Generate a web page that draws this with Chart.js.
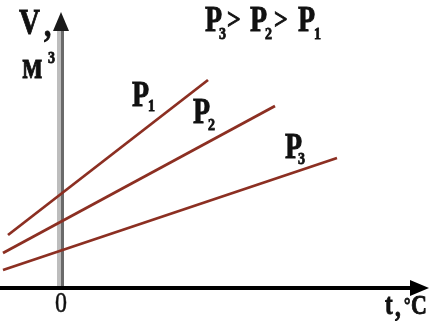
<!DOCTYPE html>
<html>
<head>
<meta charset="utf-8">
<script src="https://cdn.jsdelivr.net/npm/chart.js@4"></script>
<style>
  html, body { margin: 0; padding: 0; background: #fff; }
  canvas { display: block; }
</style>
</head>
<body>
<canvas id="chart" width="430" height="321"></canvas>
<script>
// isobars V(t), arbitrary units (origin = 0 °C)
const seriesNames = ["P1", "P2", "P3"];
const tP1 = [-53, 147];
const vP1 = [53, 208];
const tP2 = [-58, 214];
const vP2 = [35, 182];
const tP3 = [-58, 276];
const vP3 = [18, 130];

const lineColor = "#8c2f22";
const serif = '"Liberation Serif", "DejaVu Serif", serif';
const stretchY = 1.25;

function pts(ts, vs) {
    return ts.map((t, i) => ({ x: t, y: vs[i] }));
}

function txt(ctx, s, x, y, size, bold) {
    ctx.save();
    ctx.translate(x, y);
    ctx.scale(1, stretchY);
    ctx.font = (bold ? "bold " : "") + size + "px " + serif;
    ctx.fillStyle = "#111";
    ctx.strokeStyle = "#111";
    ctx.lineWidth = bold ? 0.7 : 0.4;
    ctx.textBaseline = "alphabetic";
    ctx.fillText(s, 0, 0);
    ctx.strokeText(s, 0, 0);
    ctx.restore();
}

// P with subscript
function pLabel(ctx, x, y, sub, subX, subY) {
    txt(ctx, "P", x, y, 28, true);
    txt(ctx, sub, subX, subY, 14, true);
}

const axesPlugin = {
    id: "axes",
    beforeDatasetsDraw(chart) {
        const ctx = chart.ctx;
        const xs = chart.scales.x, ys = chart.scales.y;
        const x0 = xs.getPixelForValue(0);
        const y0 = ys.getPixelForValue(0);
        ctx.save();
        // vertical axis (grey, shaded)
        ctx.fillStyle = "#bdbdbd";
        ctx.fillRect(x0 - 4, 28, 4, y0 - 28);
        ctx.fillStyle = "#6a6a6a";
        ctx.fillRect(x0, 28, 3, y0 - 28);
        ctx.fillStyle = "#1a1a1a";
        ctx.beginPath();
        ctx.moveTo(x0, 12);
        ctx.lineTo(x0 - 8, 31);
        ctx.lineTo(x0 + 8, 31);
        ctx.closePath();
        ctx.fill();
        // horizontal axis
        ctx.fillStyle = "#000";
        ctx.fillRect(0, y0 - 2, 415, 4);
        ctx.beginPath();
        ctx.moveTo(429, y0);
        ctx.lineTo(410, y0 - 8);
        ctx.lineTo(410, y0 + 8);
        ctx.closePath();
        ctx.fill();
        ctx.restore();
    },
    afterDraw(chart) {
        const ctx = chart.ctx;
        // axis labels
        txt(ctx, "V", 19, 34, 29, true);
        txt(ctx, ",", 44, 36, 29, true);
        txt(ctx, "м", 22, 78, 30, true);
        txt(ctx, "3", 48, 63, 14, true);
        txt(ctx, "0", 55, 312, 24, false);
        txt(ctx, "t", 385, 314, 23, true);
        txt(ctx, ",", 395, 316, 23, true);
        txt(ctx, "°", 404, 312, 16, true);
        txt(ctx, "C", 411, 314, 22, true);
        // title P3>P2>P1
        pLabel(ctx, 205, 31, "3", 219, 39);
        txt(ctx, ">", 227, 29, 24, true);
        pLabel(ctx, 250, 31, "2", 265, 39);
        txt(ctx, ">", 274, 29, 24, true);
        pLabel(ctx, 298, 31, "1", 314, 39);
        // series labels
        pLabel(ctx, 132, 106, seriesNames[0].slice(1), 148, 111);
        pLabel(ctx, 193, 123, seriesNames[1].slice(1), 208, 130);
        pLabel(ctx, 285, 158, seriesNames[2].slice(1), 298, 164);
    }
};

new Chart(document.getElementById("chart"), {
    type: "line",
    data: {
        datasets: [
            { label: seriesNames[0], data: pts(tP1, vP1) },
            { label: seriesNames[1], data: pts(tP2, vP2) },
            { label: seriesNames[2], data: pts(tP3, vP3) }
        ].map(d => Object.assign(d, {
            borderColor: lineColor,
            borderWidth: 2.8,
            pointRadius: 0,
            fill: false,
            tension: 0
        }))
    },
    options: {
        responsive: false,
        animation: false,
        events: [],
        layout: { padding: 0 },
        plugins: { legend: { display: false }, tooltip: { enabled: false } },
        scales: {
            x: { type: "linear", min: -61, max: 369, display: false },
            y: { type: "linear", min: -33, max: 288, display: false }
        }
    },
    plugins: [axesPlugin]
});
</script>
</body>
</html>
